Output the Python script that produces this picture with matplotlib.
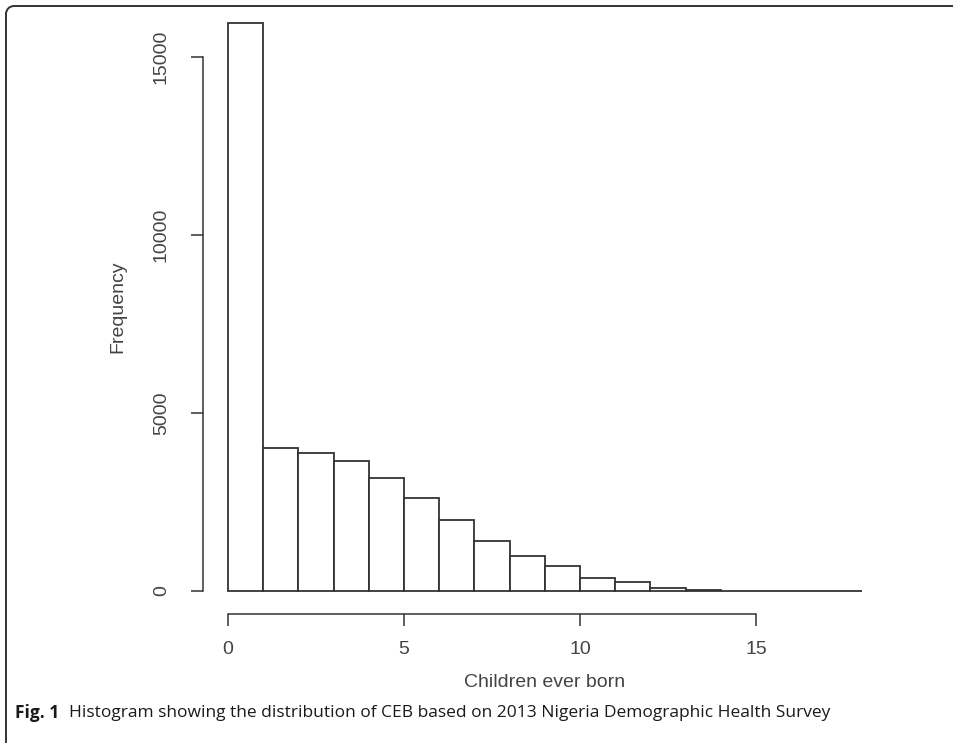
import numpy as np
import matplotlib
matplotlib.use("Agg")
import matplotlib.pyplot as plt
from matplotlib.patches import Arc

# Children ever born: counts per unit-width bin
bin_edges = list(range(0, 19))
counts = [15950, 4005, 3865, 3650, 3175, 2600, 1985, 1405, 985, 690,
          355, 255, 75, 35, 8, 3, 1, 1]
x_ticks = [0, 5, 10, 15]
y_ticks = [0, 5000, 10000, 15000]
x_title = "Children ever born"
y_title = "Frequency"
caption_bold = "Fig. 1"
caption_text = "Histogram showing the distribution of CEB based on 2013 Nigeria Demographic Health Survey"

ink = "#333333"
txt = "#444444"
plt.rcParams['font.family'] = ['Liberation Sans', 'DejaVu Sans']

fig = plt.figure(figsize=(9.54, 7.45), dpi=100)
ax = fig.add_axes([0.2124, 0.1762, 0.7174, 0.8238])

# histogram bars (R style: white fill, dark outline)
ax.bar(bin_edges[:-1], counts, width=1, align='edge',
       facecolor='white', edgecolor=ink, linewidth=1.3)

# R pads the data range by 4% on each side
xr = bin_edges[-1] - bin_edges[0]
yr = max(counts)
ax.set_xlim(bin_edges[0] - 0.04 * xr, bin_edges[-1] + 0.04 * xr)
ax.set_ylim(-0.04 * yr, yr * 1.04)

for side in ['top', 'right']:
    ax.spines[side].set_visible(False)
ax.spines['left'].set_bounds(y_ticks[0], y_ticks[-1])
ax.spines['bottom'].set_bounds(x_ticks[0], x_ticks[-1])
for side in ['left', 'bottom']:
    ax.spines[side].set_color(ink)
    ax.spines[side].set_linewidth(1.1)

ax.set_xticks(x_ticks)
ax.set_yticks(y_ticks)
ax.tick_params(axis='both', length=8.5, width=1.1, color=ink,
               labelsize=14, labelcolor=txt)
ax.tick_params(axis='x', pad=11)
ax.tick_params(axis='y', pad=15)
for lab in ax.get_yticklabels():
    lab.set_rotation(90)
    lab.set_va('center')
    lab.set_ha('right')

ax.set_xlabel(x_title, fontsize=14, color=txt, labelpad=12)
ax.set_ylabel(y_title, fontsize=14, color=txt, labelpad=19)

# journal figure frame: top and left rules with a rounded corner
r = 8
W, H = 954, 745
fig.add_artist(plt.Line2D([(6 + r) / W, 1.0], [1 - 6 / H, 1 - 6 / H],
                          transform=fig.transFigure, color=ink, lw=1.4))
fig.add_artist(plt.Line2D([6 / W, 6 / W], [1 - (6 + r) / H, 1 - 742 / H],
                          transform=fig.transFigure, color=ink, lw=1.4))
fig.add_artist(Arc(((6 + r) / W, 1 - (6 + r) / H), 2 * r / W, 2 * r / H,
                   theta1=90, theta2=180, transform=fig.transFigure,
                   color=ink, lw=1.4))

# caption
fig.text(15 / W, 1 - 713 / H, caption_bold, fontsize=12.5, weight='bold',
         family=['Open Sans', 'DejaVu Sans'], color='#1a1a1a', va='center')
fig.text(69 / W, 1 - 713 / H, caption_text, fontsize=12.5,
         family=['Open Sans', 'DejaVu Sans'], color='#1a1a1a', va='center')

fig.savefig("out.png", dpi=100, facecolor='white')
